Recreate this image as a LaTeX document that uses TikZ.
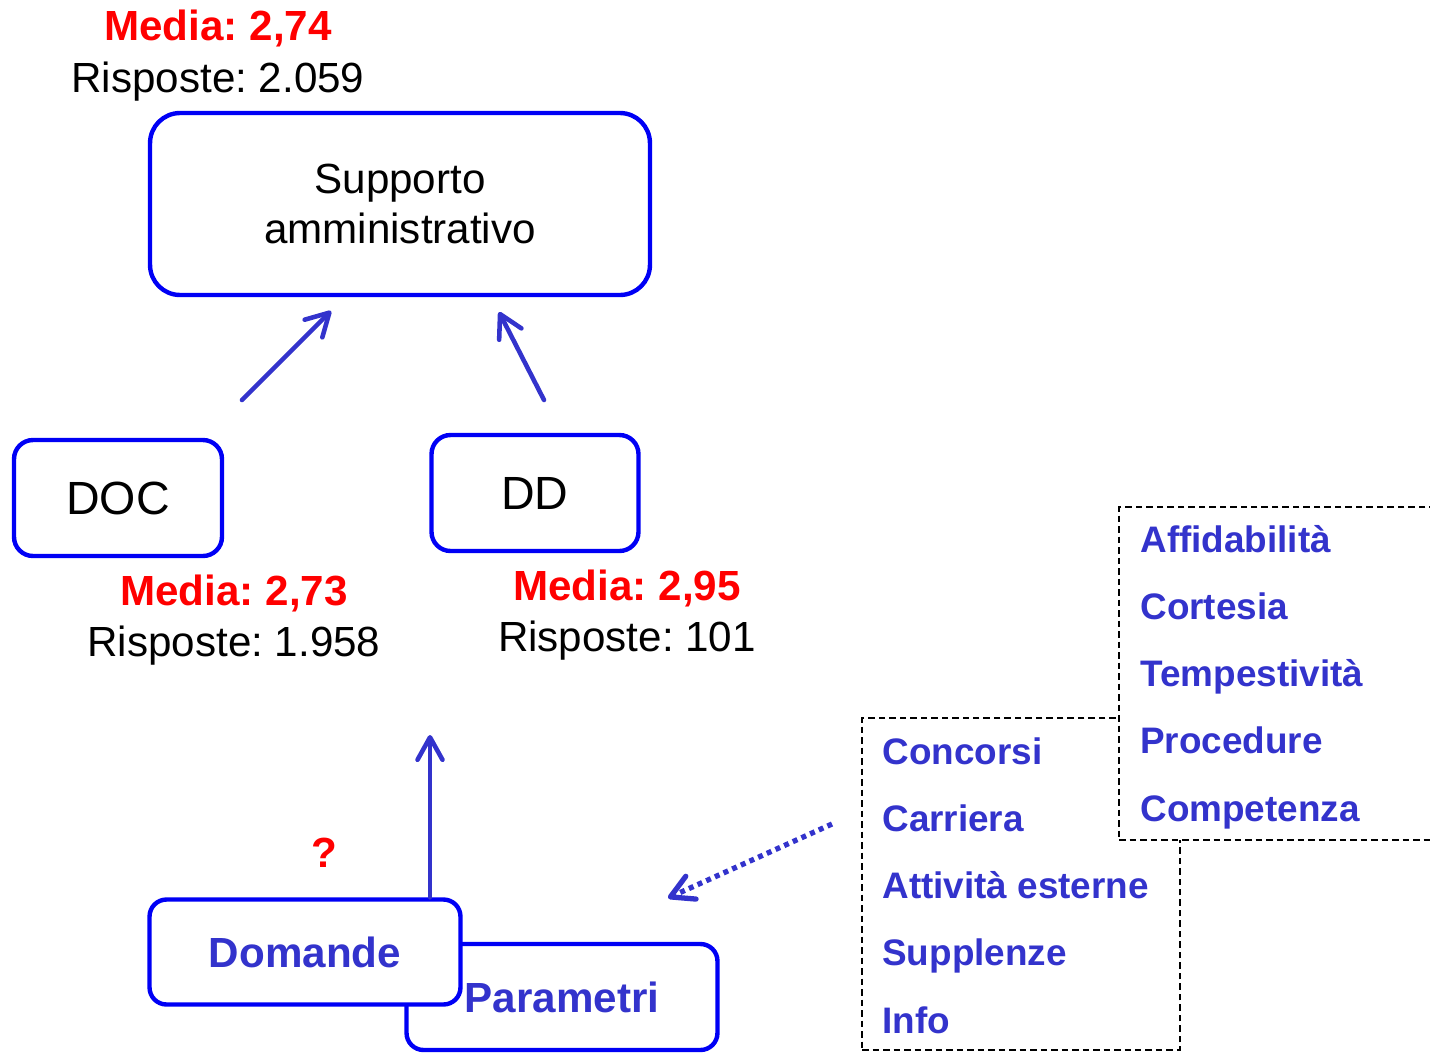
\documentclass[tikz,border=0pt]{standalone}
\usepackage{fontspec}
\setmainfont{Liberation Sans}
\usetikzlibrary{arrows.meta,positioning}
\definecolor{boxblue}{RGB}{0,0,245}
\definecolor{txtblue}{RGB}{51,51,204}
\definecolor{medred}{RGB}{255,0,0}
\frenchspacing

\begin{document}
\begin{tikzpicture}[x=0.02cm, y=-0.02cm,
  box/.style={draw=boxblue, line width=2.5pt, fill=white, rounded corners=#1, inner sep=0pt},
  box/.default=0.35cm,
  arrow/.style={-{Straight Barb[length=0.45cm, width=0.5cm, round]}, txtblue, line width=2.6pt, line cap=round},
  media/.style={anchor=base, inner sep=0pt, text=medred, font=\fontsize{24}{29}\selectfont\bfseries},
  risp/.style={anchor=base, inner sep=0pt, font=\fontsize{24}{29}\selectfont},
  listbox/.style={draw, dashed, dash pattern=on 0.13cm off 0.08cm, line width=0.9pt, fill=white, inner sep=0pt},
  crit/.style={anchor=base west, inner sep=0pt, text=txtblue, font=\fontsize{21}{25}\selectfont\bfseries}]
\useasboundingbox (0,0) rectangle (1430,1052);

% struttura
\node[box=0.6cm, minimum width=10cm, minimum height=3.64cm, align=center,
  font=\fontsize{24}{28.5}\selectfont] (sup) at (400,204) {Supporto\\amministrativo};
\node[box=0.38cm, minimum width=4.16cm, minimum height=2.32cm,
  font=\fontsize{26.5}{30}\selectfont] (doc) at (118,498) {DOC};
\node[box=0.38cm, minimum width=4.14cm, minimum height=2.32cm,
  font=\fontsize{26.5}{30}\selectfont] (dd) at (535,493) {DD};

% medie e risposte
\node[media] (m0) at (218,40) {Media: 2,74};
\node[risp] (r0) at (218,92) {Risposte: 2.059};
\node[media] (m1) at (234,605) {Media: 2,73};
\node[risp] (r1) at (234,656) {Risposte: 1.958};
\node[media] (m2) at (627,600) {Media: 2,95};
\node[risp] (r2) at (627,651) {Risposte: 101};

\coordinate (a0) at (242,400);
\coordinate (a1) at (331,311);
\coordinate (b0) at (544,400);
\coordinate (b1) at (499,312);
\draw[arrow] (a0) -- (a1);
\draw[arrow] (b0) -- (b1);

% domande e parametri
\node[box=0.34cm, minimum width=6.22cm, minimum height=2.12cm, text=txtblue,
  font=\fontsize{24}{29}\selectfont\bfseries] (par) at (562,997) {Parametri};
\node[box=0.34cm, minimum width=6.22cm, minimum height=2.1cm, text=txtblue,
  font=\fontsize{24}{29}\selectfont\bfseries] (dom) at (305,952) {Domande};
\node[text=medred, inner sep=0pt, font=\fontsize{24}{29}\selectfont\bfseries] (q) at (324,853) {?};

\coordinate (v1) at (430,735);
\draw[arrow] (dom.north -| v1) -- (v1);

% criteri
\node[listbox, minimum width=6.36cm, minimum height=6.64cm] (lst2) at (1021,884) {};
\node[listbox, minimum width=7.4cm, minimum height=6.66cm] (lst1) at (1304,673.5) {};
\foreach \t [count=\i from 0] in {Concorsi, Carriera, Attività esterne, Supplenze, Info}
  \node[crit] (c\i) at (882,764+67.3*\i) {\t};
\foreach \t [count=\i from 0] in {Affidabilità, Cortesia, Tempestività, Procedure, Competenza}
  \node[crit] (k\i) at (1140,552+67.3*\i) {\t};

\coordinate (d0) at (832,824);
\coordinate (d1) at (668,898);
\draw[arrow, line width=3pt, line cap=butt, dash pattern=on 0.1cm off 0.09cm] (d0) -- (d1);
\end{tikzpicture}
\end{document}
